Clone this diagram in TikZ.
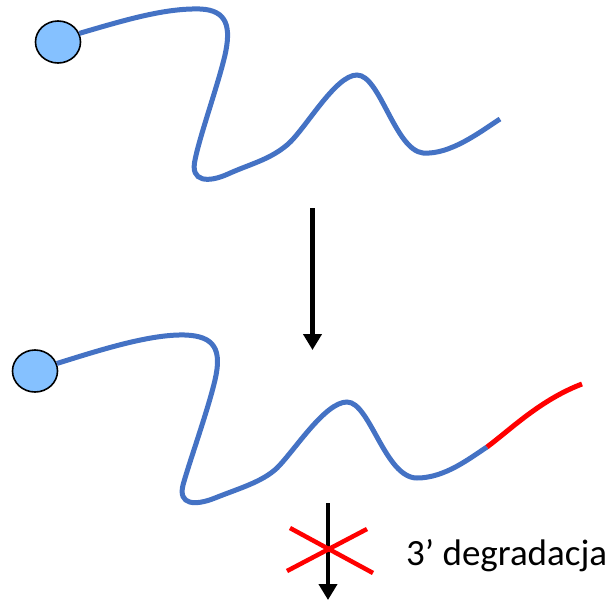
\documentclass[tikz,border=0pt]{standalone}
\usepackage{fontspec}
\setmainfont{Carlito}
\usetikzlibrary{shapes.geometric,arrows.meta}
\definecolor{strandblue}{RGB}{68,114,196}
\definecolor{capblue}{RGB}{133,193,255}
\tikzset{
  capnode/.style={ellipse,draw=black,line width=1.6pt,fill=capblue,minimum width=45pt,minimum height=42pt,inner sep=0pt},
  strand/.style={draw=strandblue,line width=5pt},
  tailred/.style={draw=red,line width=5pt},
  flowarrow/.style={draw=black,line width=4.5pt,-{Triangle[length=16pt,width=18pt]}},
  crossline/.style={draw=red,line width=4.5pt},
  labeltext/.style={font=\fontsize{37}{41}\selectfont,inner sep=0pt,anchor=base west}
}
\begin{document}
\begin{tikzpicture}[x=1pt,y=-1pt]
\useasboundingbox (0,0) rectangle (608,600);
% top strand
\node[capnode] (c1) at (58,42) {};
\draw[strand] (c1.22) .. controls (125,20) and (165,8) .. (200,9)
  .. controls (228,10) and (231,28) .. (225,55)
  .. controls (218,85) and (200,135) .. (195,160)
  .. controls (190,182) and (208,183) .. (228,174)
  .. controls (250,164) and (269,160) .. (287,145)
  .. controls (305,130) and (335,75) .. (357,75)
  .. controls (380,75) and (395,150) .. (423,153)
  .. controls (450,155) and (480,132) .. (500,119) coordinate (e1);
% arrow 1
\coordinate (a1s) at (312.5,208);
\coordinate (a1e) at (312.5,350);
\draw[flowarrow] (a1s) -- (a1e);
% bottom strand
\node[capnode] (c2) at (35,371) {};
\draw[strand] (c2.19) .. controls (100,350) and (150,334) .. (185,335)
  .. controls (215,336) and (222,350) .. (215,380)
  .. controls (208,410) and (190,460) .. (183,485)
  .. controls (178,505) and (195,506) .. (215,498)
  .. controls (240,488) and (262,482) .. (277,468)
  .. controls (295,450) and (325,402) .. (347,402)
  .. controls (370,402) and (385,478) .. (417,478)
  .. controls (445,478) and (470,458) .. (487,447) coordinate (j2);
\draw[tailred] (j2) .. controls (510,430) and (540,400) .. (582,384) coordinate (e2);
% arrow 2 with cross
\coordinate (a2s) at (328,503);
\coordinate (a2e) at (328,600);
\draw[flowarrow] (a2s) -- (a2e);
\coordinate (x1a) at (290,528);
\coordinate (x1b) at (373,573);
\coordinate (x2a) at (287,571);
\coordinate (x2b) at (367,529);
\draw[crossline] (x1a) -- (x1b);
\draw[crossline] (x2a) -- (x2b);
\node[labeltext] (lbl) at (406,565) {3’ degradacja};
\end{tikzpicture}
\end{document}
